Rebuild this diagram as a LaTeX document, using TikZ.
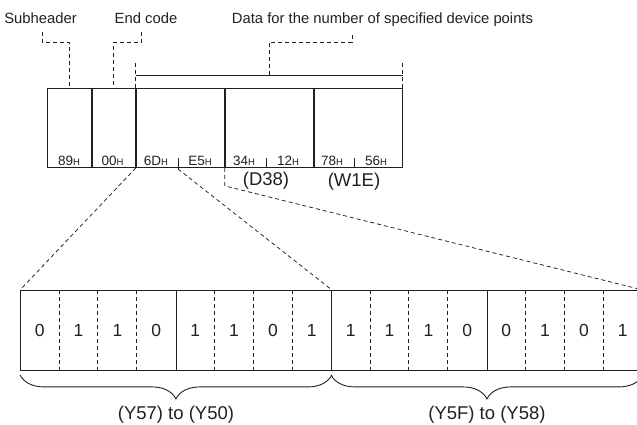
\documentclass[tikz,border=0pt]{standalone}
\usepackage{fontspec}
\setmainfont{Liberation Sans}
\usetikzlibrary{positioning, calc, decorations.pathreplacing}
\definecolor{inkgray}{RGB}{35, 31, 32}
\newcommand{\hexb}[1]{#1{\fontsize{9.5}{10}\selectfont H}}

\begin{document}
\begin{tikzpicture}[
  x=1pt, y=-1pt,
  every node/.style={text=inkgray, inner sep=0pt},
  frame/.style={draw=inkgray, line width=0.9pt},
  cell/.style={frame, minimum height=79pt},
  nibble/.style={frame, anchor=north west, minimum width=155.5pt, minimum height=80pt},
  bit/.style={font=\fontsize{17.5}{20}\selectfont, anchor=north west,
    minimum width=38.875pt, minimum height=80pt},
  byte/.style={font=\fontsize{13.5}{15}\selectfont, anchor=base},
  caption/.style={font=\fontsize{14.8}{17}\selectfont, anchor=base},
  devlabel/.style={font=\fontsize{18.5}{21}\selectfont},
  leader/.style={draw=inkgray, line width=0.75pt, dash pattern=on 4pt off 3pt},
  bracelabel/.style={devlabel, midway, yshift=-44pt}
]
  \useasboundingbox (0,0) rectangle (637,425);
  \clip (0,0) rectangle (637,425);

  % Captions
  \node[caption] (subhdr) at (40.5,24) {Subheader};
  \node[caption] (endcode) at (146,24) {End code};
  \node[caption] (datapts) at (382.5,24) {Data for the number of specified device points};

  % Response frame (top row)
  \node[cell, minimum width=44pt, anchor=north west] (subcell) at (47,88) {};
  \node[cell, minimum width=43pt, right=0pt of subcell] (endcell) {};
  \node[cell, minimum width=88pt, right=0pt of endcell] (datA) {};
  \node[cell, minimum width=88pt, right=0pt of datA] (datB) {};
  \node[cell, minimum width=88pt, right=0pt of datB] (datC) {};

  \foreach \x/\v [count=\i] in {69/89, 112.5/00, 156/6D, 200/E5, 244/34, 288/12, 332/78, 376/56}
    \node[byte] (byte\i) at (\x,165) {\hexb{\v}};

  % byte ticks
  \coordinate (e5tick) at (178,169);
  \draw[frame] (178,158) -- (e5tick);
  \foreach \x in {266,354}
    \draw[frame] (\x,158) -- (\x,167);

  \node[devlabel] (dthree) at (266,181) {(D38)};
  \node[devlabel] (wone) at (354,182) {(W1E)};

  % Leaders to the captions
  \draw[leader] ([xshift=1.5pt]subhdr.base) ++(0,8) -- ++(0,10) -| (subcell.north);
  \draw[leader] ([xshift=-4.5pt]endcode.base) ++(0,8) -- ++(0,10) -| (endcell.north);

  % Span of the device data
  \coordinate (spanL) at ($(datA.north west)+(0,-13)$);
  \coordinate (spanR) at ($(datC.north east)+(0,-13)$);
  \draw[frame] (spanL) -- (spanR);
  \draw[leader] ($(datA.north west)+(0,-25)$) -- (datA.north west);
  \draw[leader] ($(datC.north east)+(0,-25)$) -- (datC.north east);
  \draw[leader] ($(spanL)!0.5!(spanR)$) -- ++(0,-33) -| ([xshift=-30.5pt, yshift=-8pt]datapts.base);

  % Bit pattern (bottom row)
  \foreach \i in {0,...,3}
    \node[nibble] (nib\i) at (20+155.5*\i,290) {};
  \foreach \b [count=\i from 0] in {0,1,1,0,1,1,0,1,1,1,1,0,0,1,0,1}
    \node[bit] (bit\i) at (20+38.875*\i,290) {\b};
  \foreach \i in {1,2,3,5,6,7,9,10,11,13,14,15}
    \draw[leader] (bit\i.north west) -- (bit\i.south west);

  % Expansion lines
  \draw[leader] (datA.south west) -- (nib0.north west);
  \draw[leader] (e5tick) -- (nib1.north east);
  \draw[leader] (datB.south west) -- ++(0,18) -- (nib3.north east);

  % Braces
  \draw[frame, decorate, decoration={brace, mirror, amplitude=24pt, raise=4pt}]
    (nib0.south west) -- (nib1.south east) node[bracelabel] (lowbits) {(Y57) to (Y50)};
  \draw[frame, decorate, decoration={brace, mirror, amplitude=24pt, raise=4pt}]
    (nib2.south west) -- (nib3.south east) node[bracelabel] (highbits) {(Y5F) to (Y58)};

\end{tikzpicture}
\end{document}
